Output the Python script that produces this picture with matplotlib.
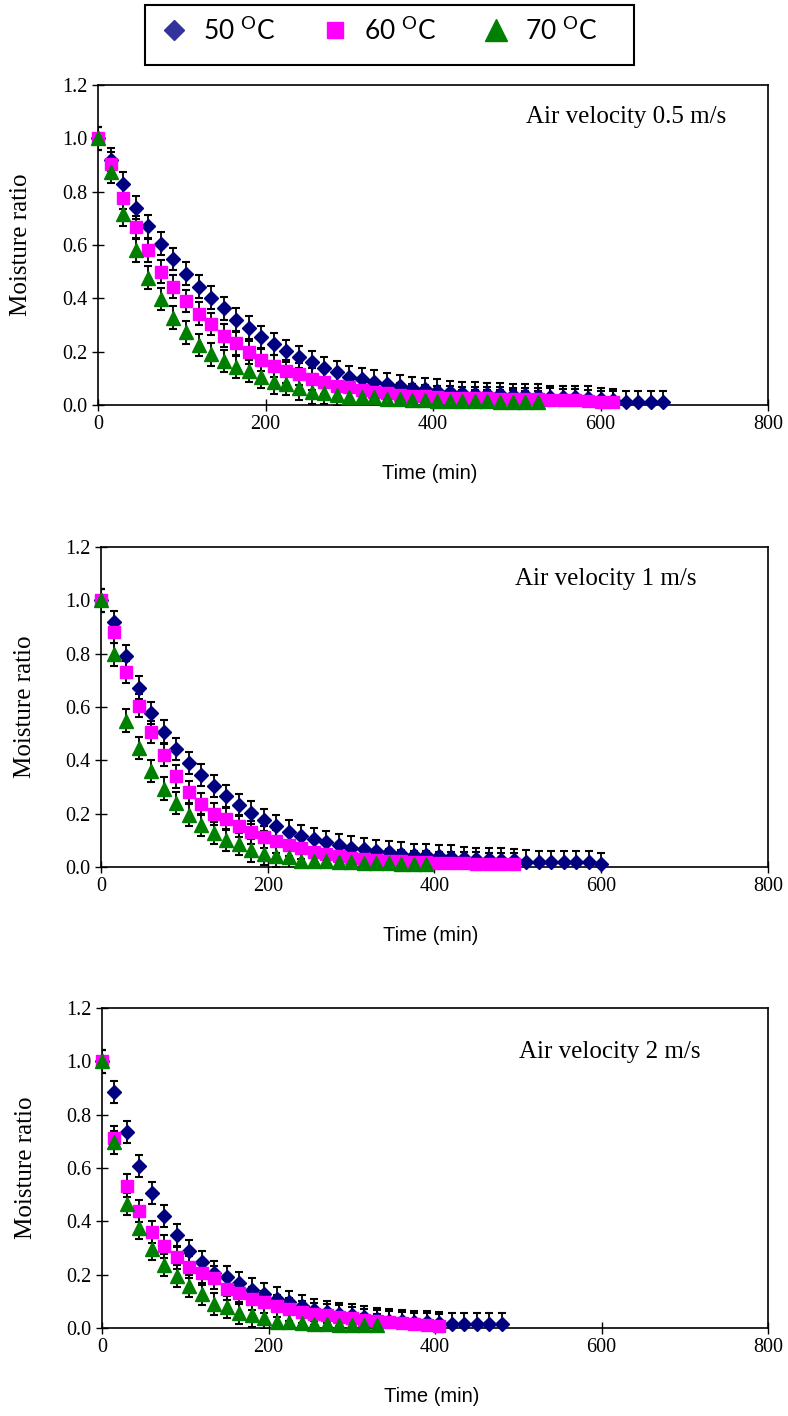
import numpy as np
import matplotlib
matplotlib.use("Agg")
import matplotlib.pyplot as plt
from matplotlib.lines import Line2D
from matplotlib.patches import Rectangle

# ---------------- data (moisture ratio every 15 min) ----------------
step_min = 15
err = 0.042

# Air velocity 0.5 m/s
mr50_a = [1.0, 0.92, 0.83, 0.74, 0.67, 0.605, 0.548, 0.493, 0.444, 0.403,
          0.362, 0.32, 0.29, 0.256, 0.228, 0.203, 0.18, 0.16, 0.138, 0.122,
          0.106, 0.097, 0.088, 0.078, 0.072, 0.064, 0.06, 0.054, 0.047, 0.046,
          0.043, 0.041, 0.04, 0.036, 0.036, 0.035, 0.03, 0.03, 0.029, 0.028,
          0.023, 0.019, 0.012, 0.011, 0.011, 0.011]
mr60_a = [1.0, 0.905, 0.778, 0.668, 0.58, 0.50, 0.444, 0.39, 0.343, 0.303,
          0.26, 0.231, 0.197, 0.168, 0.147, 0.126, 0.116, 0.097, 0.085, 0.072,
          0.066, 0.056, 0.047, 0.044, 0.039, 0.035, 0.032, 0.029, 0.028, 0.027,
          0.026, 0.025, 0.024, 0.023, 0.022, 0.021, 0.020, 0.018, 0.017, 0.016,
          0.012, 0.010]
mr70_a = [1.0, 0.875, 0.715, 0.58, 0.478, 0.397, 0.328, 0.272, 0.226, 0.19,
          0.166, 0.143, 0.128, 0.106, 0.085, 0.079, 0.062, 0.047, 0.044, 0.037,
          0.031, 0.029, 0.029, 0.022, 0.022, 0.019, 0.019, 0.016, 0.015, 0.015,
          0.014, 0.014, 0.013, 0.013, 0.012, 0.012]

# Air velocity 1 m/s
mr50_b = [1.0, 0.919, 0.791, 0.673, 0.578, 0.508, 0.443, 0.39, 0.344, 0.303,
          0.266, 0.232, 0.204, 0.176, 0.152, 0.133, 0.117, 0.104, 0.094, 0.083,
          0.073, 0.066, 0.060, 0.055, 0.050, 0.046, 0.044,
          0.041, 0.039, 0.033, 0.031, 0.029, 0.028, 0.026, 0.02, 0.019, 0.019,
          0.019, 0.018, 0.018, 0.011]
mr60_b = [1.0, 0.881, 0.732, 0.605, 0.506, 0.419, 0.34, 0.282, 0.236, 0.199,
          0.179, 0.154, 0.13, 0.112, 0.096, 0.083, 0.071, 0.058, 0.05, 0.04,
          0.034, 0.03, 0.027, 0.024, 0.021, 0.018, 0.017, 0.015, 0.015, 0.014,
          0.013, 0.012, 0.011, 0.010]
mr70_b = [1.0, 0.797, 0.549, 0.447, 0.36, 0.294, 0.241, 0.195, 0.158, 0.127,
          0.102, 0.086, 0.062, 0.048, 0.042, 0.036, 0.024, 0.024, 0.021, 0.017,
          0.017, 0.015, 0.015, 0.014, 0.013, 0.013, 0.012]

# Air velocity 2 m/s
mr50_c = [1.0, 0.885, 0.734, 0.608, 0.506, 0.42, 0.347, 0.287, 0.246, 0.208,
          0.19, 0.167, 0.144, 0.127, 0.11, 0.097, 0.081, 0.068, 0.059, 0.051,
          0.047, 0.04, 0.034, 0.028, 0.027, 0.022, 0.022, 0.018, 0.016, 0.016,
          0.016, 0.015, 0.015]
mr60_c = [1.0, 0.714, 0.534, 0.439, 0.359, 0.306, 0.265, 0.228, 0.205, 0.189,
          0.148, 0.132, 0.11, 0.097, 0.082, 0.07, 0.059, 0.053, 0.047, 0.043,
          0.038, 0.03, 0.025, 0.022, 0.018, 0.015, 0.013, 0.009]
mr70_c = [1.0, 0.696, 0.465, 0.376, 0.296, 0.237, 0.195, 0.157, 0.127, 0.091,
          0.078, 0.056, 0.047, 0.038, 0.024, 0.022, 0.018, 0.015, 0.015, 0.013,
          0.013, 0.011, 0.011]

panel_titles = ["Air velocity 0.5 m/s", "Air velocity 1 m/s", "Air velocity 2 m/s"]
panel_data = [(mr50_a, mr60_a, mr70_a), (mr50_b, mr60_b, mr70_b), (mr50_c, mr60_c, mr70_c)]
series_labels = ["50 $^{\\mathrm{O}}$C", "60 $^{\\mathrm{O}}$C", "70 $^{\\mathrm{O}}$C"]
x_ticks = [0, 200, 400, 600, 800]
y_ticks = [0.0, 0.2, 0.4, 0.6, 0.8, 1.0, 1.2]

# ---------------- style ----------------
plt.rcParams['mathtext.fontset'] = 'custom'
plt.rcParams['mathtext.rm'] = 'Lato'
SERIF = ['Liberation Serif', 'DejaVu Serif']
SANS = ['Liberation Sans', 'DejaVu Sans']

styles = [dict(marker='D', color='#000080', ms=7.4),
          dict(marker='s', color='#FF00FF', ms=9.0),
          dict(marker='^', color='#008000', ms=9.8)]

W, H = 788, 1416
fig = plt.figure(figsize=(W / 100, H / 100), dpi=100)

# axes boxes in pixels: (left, top, right, bottom)
boxes = [(98, 85, 768, 405), (101, 547, 768, 867), (102, 1008, 768, 1328)]
title_pos = [(630, 1.08), (605, 1.08), (610, 1.035)]

for (l, t, r, b), data, title, tp in zip(boxes, panel_data, panel_titles, title_pos):
    ax = fig.add_axes([l / W, 1 - b / H, (r - l) / W, (b - t) / H])
    for mr, st in zip(data, styles):
        mr = np.asarray(mr)
        tt = step_min * np.arange(len(mr))
        ax.errorbar(tt, mr, yerr=err, fmt='none', ecolor='black',
                    elinewidth=1.3, capsize=3.2, capthick=1.5, zorder=2)
        ax.plot(tt, mr, ls='none', marker=st['marker'], color=st['color'],
                ms=st['ms'], mec=st['color'], clip_on=False, zorder=3)
    ax.set_xlim(0, 800)
    ax.set_ylim(0, 1.2)
    ax.set_xticks(x_ticks)
    ax.set_yticks(y_ticks)
    ax.set_yticklabels([f"{v:.1f}" for v in y_ticks])
    ax.tick_params(direction='inout', length=8, width=1.0, labelsize=14.5,
                   colors='black')
    for lab in ax.get_xticklabels() + ax.get_yticklabels():
        lab.set_fontfamily(SERIF)
    for s in ax.spines.values():
        s.set_linewidth(1.2)
        s.set_color('black')
    ax.set_ylabel("Moisture ratio", fontsize=18, family=SERIF)
    ax.yaxis.set_label_coords(-0.098, 0.5)
    ax.set_xlabel("Time (min)", fontsize=14.5, family=SANS)
    ax.xaxis.set_label_coords(0.495, -0.185)
    ax.text(tp[0], tp[1], title, fontsize=18, family=SERIF, ha='center',
            va='center')

# legend frame (box at top of figure)
fig.patches.append(Rectangle((145 / W, 1 - 65 / H), 489 / W, 60 / H,
                             transform=fig.transFigure, fill=False,
                             edgecolor='black', linewidth=1.5))

handles = [Line2D([], [], ls='none', marker='D', color='#333399', ms=10.5),
           Line2D([], [], ls='none', marker='s', color='#FF00FF', ms=12),
           Line2D([], [], ls='none', marker='^', color='#008000', ms=16)]
leg = fig.legend(handles, series_labels, ncol=3, loc='upper left',
                 bbox_to_anchor=(157 / W, 1 - 66 / H, 440 / W, 50 / H),
                 mode='expand', borderaxespad=0, frameon=False,
                 prop={'family': 'Lato', 'size': 19}, handletextpad=0.45,
                 borderpad=0.0, handlelength=1.3)

fig.savefig("out.png", dpi=100)
